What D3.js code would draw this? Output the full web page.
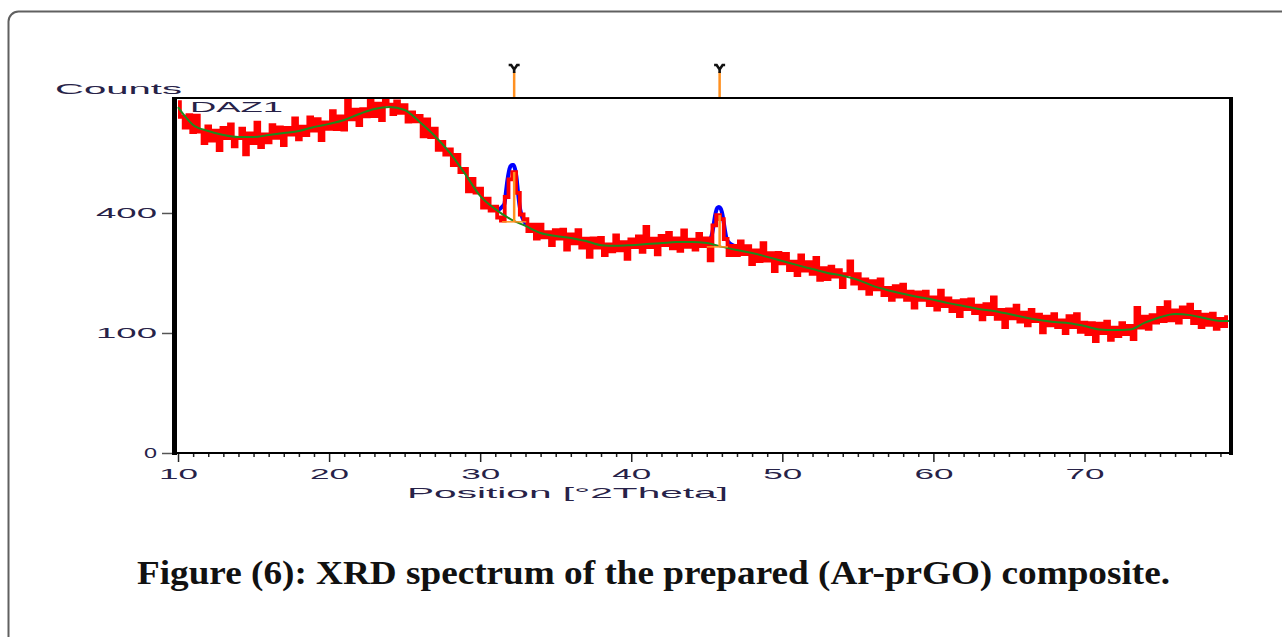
<!DOCTYPE html>
<html>
<head>
<meta charset="utf-8">
<script src="https://cdn.jsdelivr.net/npm/d3@7"></script>
<style>
  body { margin: 0; background: #fff; }
  svg { display: block; }
</style>
</head>
<body>
<script>
// observed scan: start angle, step size, counts
var obsStart = 10;
var obsStep = 0.25;
var obsCounts = [
  855, 785, 735, 793, 715, 790, 717, 667,
  741, 678, 722, 637, 734, 689, 750, 653,
  688, 730, 619, 709, 667, 758, 650, 705,
  670, 746, 690, 736, 658, 734, 704, 777,
  683, 740, 702, 782, 722, 774, 680, 759,
  730, 811, 728, 787, 726, 861, 773, 819,
  747, 821, 787, 862, 788, 847, 770, 869,
  843, 798, 858, 803, 840, 763, 806, 764,
  789, 696, 773, 693, 730, 638, 672, 618,
  640, 575, 617, 548, 560, 475, 522, 471,
  485, 418, 449, 408, 421, 385, 375, 455,
  520, 548, 470, 395, 380, 342, 362, 319,
  362, 323, 339, 300, 345, 319, 346, 287,
  332, 305, 345, 293, 319, 267, 320, 293,
  321, 272, 302, 282, 329, 285, 309, 262,
  317, 294, 326, 281, 355, 294, 319, 274,
  327, 300, 336, 291, 320, 284, 344, 295,
  316, 287, 333, 297, 320, 258, 360, 393,
  380, 318, 272, 298, 272, 311, 275, 297,
  248, 285, 256, 306, 257, 277, 230, 278,
  250, 275, 232, 254, 220, 271, 231, 253,
  223, 264, 208, 237, 210, 241, 216, 232,
  191, 222, 255, 199, 222, 188, 209, 176,
  205, 186, 209, 173, 189, 163, 193, 170,
  197, 163, 181, 147, 179, 163, 181, 152,
  168, 143, 183, 150, 166, 140, 160, 130,
  162, 144, 164, 136, 151, 124, 154, 134,
  168, 125, 142, 110, 143, 126, 151, 120,
  137, 113, 142, 121, 133, 101, 129, 113,
  134, 110, 122, 100, 130, 110, 134, 102,
  118, 98, 117, 87, 116, 100, 120, 89,
  109, 95, 117, 98, 112, 90, 146, 109,
  129, 107, 132, 118, 146, 121, 158, 122,
  141, 118, 147, 128, 153, 117, 138, 110,
  133, 114, 135, 107, 125, 112, 128
];

// fitted background (green)
var bgPos = [10, 10.5, 11, 12, 13, 14, 15, 16, 17, 18, 19, 20, 21, 22, 23, 24, 25, 26, 27, 28, 29,
  30, 31, 32, 33, 34, 35, 36, 37, 38, 39, 40, 41, 42, 43, 44, 45, 46, 47, 48, 49,
  50, 51, 52, 53, 54, 55, 56, 57, 58, 59, 60, 61, 62, 63, 64, 65, 66, 67, 68, 69,
  70, 71, 72, 73, 74, 75, 76, 77, 78, 79, 79.7];
var bgCounts = [831, 784, 747, 720, 702, 693, 693, 702, 711, 720, 738, 752, 770, 798, 822, 831, 817, 761, 698, 625, 541,
  459, 413, 380, 358, 336, 327, 321, 312, 300, 298, 300, 303, 306, 309, 309, 306, 295, 286, 278, 267,
  256, 245, 235, 225, 218, 208, 194, 184, 176, 169, 163, 156, 150, 144, 140, 134, 128, 123, 119, 117,
  112, 106, 105, 106, 118, 128, 134, 132, 126, 121, 121];

// calculated profile (blue) around the two peaks
var fitPos1 = [31.2, 31.4, 31.6, 31.7, 31.8, 31.9, 32.0, 32.1, 32.2, 32.3, 32.4, 32.5, 32.6, 32.7, 32.8, 33.0, 33.3, 33.6, 34.0];
var fitCounts1 = [410, 418, 430, 470, 515, 550, 570, 576, 576, 562, 530, 475, 428, 400, 384, 367, 352, 342, 336];
var fitPos2 = [45.0, 45.2, 45.4, 45.5, 45.6, 45.7, 45.8, 45.9, 46.0, 46.1, 46.2, 46.3, 46.5, 46.8, 47.2, 47.6];
var fitCounts2 = [309, 315, 345, 377, 403, 417, 420, 417, 403, 377, 345, 321, 306, 298, 289, 283];

// identified peaks
var peakPos = [32.25, 45.85];
var peakTop = [548, 393];
var peakBase = [371, 295];
var peakBaseFrom = [31.45, 45.0];
var peakBaseTo = [33.05, 46.4];

var xTickLabels = [10, 20, 30, 40, 50, 60, 70];
var yTickValues = [0, 100, 400];

var svgWidth = 1282;
var svgHeight = 637;
var textColor = "#272248";
var sans = "'Liberation Sans', Arial, sans-serif";

var svg = d3.select("body")
  .append("svg")
  .attr("width", svgWidth)
  .attr("height", svgHeight);

// page frame
svg.append("rect")
  .attr("x", 8.5).attr("y", 11.5)
  .attr("width", 1400).attr("height", 900)
  .attr("rx", 10)
  .attr("fill", "none")
  .attr("stroke", "#606060")
  .attr("stroke-width", 2);

var x = d3.scaleLinear().domain([9.8, 79.7]).range([175, 1231]);
var y = d3.scaleSqrt().domain([0, 875]).range([453, 98]);

svg.append("clipPath").attr("id", "plotClip")
  .append("rect")
  .attr("x", 177).attr("y", 98)
  .attr("width", 1052).attr("height", 355);

var plot = svg.append("g").attr("clip-path", "url(#plotClip)");

var fitLine = d3.line().x(d => x(d[0])).y(d => y(d[1])).curve(d3.curveMonotoneX);

// blue calculated profile
[[fitPos1, fitCounts1], [fitPos2, fitCounts2]].forEach(function (f) {
  plot.append("path")
    .datum(f[0].map((p, i) => [p, f[1][i]]))
    .attr("d", fitLine)
    .attr("fill", "none")
    .attr("stroke", "#0000ff")
    .attr("stroke-width", 4);
});

// red observed
var obsLine = d3.line()
  .x((d, i) => x(obsStart + i * obsStep))
  .y(d => y(d))
  .curve(d3.curveStep);

plot.append("path")
  .datum(obsCounts)
  .attr("d", obsLine)
  .attr("fill", "none")
  .attr("stroke", "#ff0000")
  .attr("stroke-width", 3.8);

// green background
plot.append("path")
  .datum(bgPos.map((p, i) => [p, bgCounts[i]]))
  .attr("d", fitLine)
  .attr("fill", "none")
  .attr("stroke", "#1e8a1e")
  .attr("stroke-width", 2);

// orange sticks inside the plot
peakPos.forEach(function (p, i) {
  plot.append("line")
    .attr("x1", x(p)).attr("x2", x(p))
    .attr("y1", y(peakBase[i])).attr("y2", y(peakTop[i]))
    .attr("stroke", "#ff9020").attr("stroke-width", 2.5);
  plot.append("line")
    .attr("x1", x(peakBaseFrom[i])).attr("x2", x(peakBaseTo[i]))
    .attr("y1", y(peakBase[i])).attr("y2", y(peakBase[i]))
    .attr("stroke", "#ff9020").attr("stroke-width", 1.5);
});

// reference markers above the plot
peakPos.forEach(function (p) {
  svg.append("line")
    .attr("x1", x(p)).attr("x2", x(p))
    .attr("y1", 72).attr("y2", 98)
    .attr("stroke", "#ff9020").attr("stroke-width", 2.5);
  svg.append("path")
    .attr("transform", `translate(${x(p)}, 69)`)
    .attr("d", "M-5.5,-4 L-3,-4 L0,0.5 L3,-4 L5.5,-4 M0,0 L0,4")
    .attr("fill", "none")
    .attr("stroke", "#111")
    .attr("stroke-width", 2.6);
});

// x axis: major and minor ticks
var xMajor = d3.axisBottom(x).tickValues(xTickLabels).tickSize(9).tickPadding(6).tickFormat(d3.format("d"));
var xMinor = d3.axisBottom(x).tickValues(d3.range(11, 80).filter(d => d % 10 !== 0)).tickSize(4).tickFormat("");

var gx = svg.append("g").attr("transform", "translate(0,453)").call(xMajor);
svg.append("g").attr("transform", "translate(0,453)").call(xMinor)
  .call(g => g.select(".domain").remove())
  .selectAll("line").attr("stroke", "#222").attr("stroke-width", 1.5);
gx.select(".domain").remove();
gx.selectAll("line").attr("stroke", "#222").attr("stroke-width", 1.5);
gx.selectAll("text")
  .attr("font-family", sans).attr("font-size", 15)
  .attr("fill", textColor)
  .attr("textLength", 39).attr("lengthAdjust", "spacingAndGlyphs");

// y axis
var yAxis = d3.axisLeft(y).tickValues(yTickValues).tickSize(10).tickPadding(5);
var gy = svg.append("g").attr("transform", "translate(172,0)").call(yAxis);
gy.select(".domain").remove();
gy.selectAll("line").attr("stroke", "#555").attr("stroke-width", 1.5);
gy.selectAll("text")
  .attr("font-family", sans).attr("font-size", 15)
  .attr("fill", textColor)
  .attr("textLength", d => 13 + (String(d).length - 1) * 24)
  .attr("lengthAdjust", "spacingAndGlyphs");

// plot frame
svg.append("line").attr("x1", 172).attr("x2", 1233).attr("y1", 98).attr("y2", 98)
  .attr("stroke", "#000").attr("stroke-width", 2);
svg.append("line").attr("x1", 172).attr("x2", 1233).attr("y1", 453).attr("y2", 453)
  .attr("stroke", "#000").attr("stroke-width", 2);
svg.append("line").attr("x1", 174.5).attr("x2", 174.5).attr("y1", 97).attr("y2", 455)
  .attr("stroke", "#000").attr("stroke-width", 5);
svg.append("line").attr("x1", 1231).attr("x2", 1231).attr("y1", 97).attr("y2", 455)
  .attr("stroke", "#000").attr("stroke-width", 4);

// labels
svg.append("text")
  .attr("x", 55).attr("y", 94)
  .attr("font-family", sans).attr("font-size", 15)
  .attr("fill", textColor)
  .attr("textLength", 127).attr("lengthAdjust", "spacingAndGlyphs")
  .text("Counts");

svg.append("text")
  .attr("x", 190).attr("y", 112)
  .attr("font-family", sans).attr("font-size", 15)
  .attr("fill", textColor)
  .attr("textLength", 93).attr("lengthAdjust", "spacingAndGlyphs")
  .text("DAZ1");

svg.append("text")
  .attr("x", 407).attr("y", 498)
  .attr("font-family", sans).attr("font-size", 15)
  .attr("fill", textColor)
  .attr("textLength", 321).attr("lengthAdjust", "spacingAndGlyphs")
  .text("Position [°2Theta]");

svg.append("text")
  .attr("x", 137).attr("y", 584)
  .attr("font-family", "'Liberation Serif', 'Times New Roman', serif")
  .attr("font-weight", "bold")
  .attr("font-size", 33)
  .attr("fill", "#111")
  .attr("textLength", 1033).attr("lengthAdjust", "spacingAndGlyphs")
  .text("Figure (6): XRD spectrum of the prepared (Ar-prGO) composite.");
</script>
</body>
</html>
